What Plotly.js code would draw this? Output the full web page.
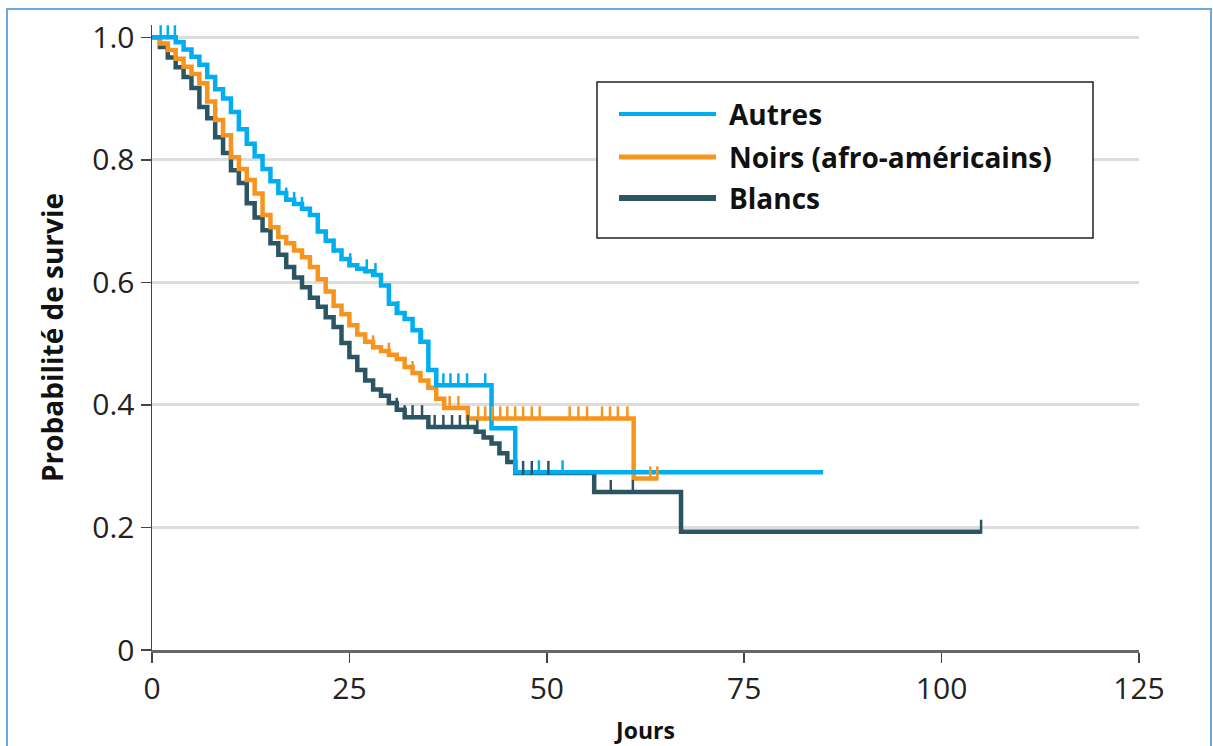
<!DOCTYPE html>
<html>
<head>
<meta charset="utf-8">
<script src="https://cdn.plot.ly/plotly-3.0.1.min.js"></script>
<style>html,body{margin:0;padding:0;background:#fff;}</style>
</head>
<body>
<div id="chart" style="width:1213px;height:746px;"></div>
<script>
// ---- Data ----
const seriesNames = ['Autres', 'Noirs (afro-américains)', 'Blancs'];

// Autres
const autresDays = [0,3,4,5,6,7,8,9,10,11,12,13,14,15,16,17,18,19,20,21,22,23,24,25,26,27,28,29,30,31,32,33,34,35,36,43,46,85];
const autresSurv = [1.0,0.992,0.98,0.968,0.955,0.935,0.915,0.9,0.878,0.85,0.826,0.806,0.785,0.765,0.746,0.735,0.728,0.72,0.71,0.683,0.668,0.652,0.638,0.628,0.622,0.618,0.612,0.595,0.565,0.55,0.54,0.522,0.503,0.457,0.432,0.362,0.29,0.29];
const autresCensored = [1.1,2.0,2.9,17,18,19,23,25.1,27.2,28.3,31.2,34.2,36.9,37.8,38.8,39.9,42.2,49,52];

// Noirs (afro-américains)
const noirsDays = [0,1,2,3,4,5,6,7,8,9,10,11,12,13,14,15,16,17,18,19,20,21,22,23,24,25,26,27,28,29,30,31,32,33,34,35,36,37,40,61,64];
const noirsSurv = [1.0,0.99,0.979,0.965,0.952,0.94,0.925,0.895,0.865,0.84,0.804,0.785,0.767,0.745,0.71,0.69,0.674,0.664,0.652,0.641,0.625,0.605,0.585,0.562,0.548,0.53,0.515,0.503,0.494,0.488,0.482,0.475,0.462,0.452,0.44,0.428,0.41,0.395,0.378,0.28,0.28];
const noirsCensored = [28,30,33,37.7,38.8,41.3,42.2,43.1,44.1,45,46,47,48.1,49.1,52.9,54,55.1,57,58,59,60.2,63.1,64];

// Blancs
const blancsDays = [0,1,2,3,4,5,6,7,8,9,10,11,12,13,14,15,16,17,18,19,20,21,22,23,24,25,26,27,28,29,30,31,32,35,41,42,43,44,45,46,56,67,105];
const blancsSurv = [1.0,0.984,0.967,0.951,0.935,0.917,0.886,0.868,0.837,0.811,0.783,0.762,0.729,0.706,0.685,0.664,0.645,0.625,0.608,0.592,0.575,0.56,0.543,0.527,0.501,0.478,0.457,0.44,0.425,0.415,0.403,0.392,0.38,0.364,0.356,0.347,0.337,0.321,0.307,0.289,0.258,0.193,0.193];
const blancsCensored = [31,32,33,34.2,35.8,36.9,38,39,40,41.2,47,48.1,50.2,58.1,60.9,105];

const xTickVals = [0,25,50,75,100,125];
const yTickVals = [0,0.2,0.4,0.6,0.8,1.0];
const yTickText = ['0','0.2','0.4','0.6','0.8','1.0'];
const xTitle = 'Jours';
const yTitle = 'Probabilité de survie';

// ---- Styles ----
const colors = ['#00aeef', '#f7941d', '#2b5563'];
const W = 1213, H = 746;
const margin = {l: 152, r: 74, t: 25, b: 96, pad: 0};
const yRange = [0, 1.02];
const xRange = [0, 125];
const plotH = H - margin.t - margin.b;
const plotW = W - margin.l - margin.r;
const pxPerY = plotH / (yRange[1] - yRange[0]);
const tickOffset = 5 / pxPerY;

function survAt(days, surv, t) {
  let v = surv[0];
  for (let i = 0; i < days.length; i++) { if (days[i] <= t) v = surv[i]; }
  return v;
}

const groups = [
  {days: autresDays, surv: autresSurv, cens: autresCensored},
  {days: noirsDays, surv: noirsSurv, cens: noirsCensored},
  {days: blancsDays, surv: blancsSurv, cens: blancsCensored}
];

const drawOrder = [2, 1, 0];
const traces = [];
drawOrder.forEach(i => {
  const g = groups[i];
  traces.push({
    x: g.days, y: g.surv, type: 'scatter', mode: 'lines',
    line: {shape: 'hv', color: colors[i], width: 4.5},
    name: seriesNames[i], showlegend: false, hoverinfo: 'skip'
  });
});
drawOrder.forEach(i => {
  const g = groups[i];
  traces.push({
    x: g.cens, y: g.cens.map(t => survAt(g.days, g.surv, t) + tickOffset),
    type: 'scatter', mode: 'markers',
    marker: {symbol: 'line-ns', size: 10, line: {color: colors[i], width: 2.5}},
    name: seriesNames[i] + ' (censuré)', showlegend: false, hoverinfo: 'skip'
  });
});

// pixel -> paper helpers (for the legend box and page frame)
const px2x = px => (px - margin.l) / plotW;
const px2y = py => (H - margin.b - py) / plotH;

const shapes = [
  {type: 'rect', xref: 'paper', yref: 'paper', x0: px2x(7), x1: px2x(1211), y0: px2y(770), y1: px2y(9),
   line: {color: '#6fa8dc', width: 2}, fillcolor: 'rgba(0,0,0,0)', layer: 'below'},
  {type: 'rect', xref: 'paper', yref: 'paper', x0: px2x(597), x1: px2x(1093), y0: px2y(238), y1: px2y(82),
   line: {color: '#222', width: 1.5}, fillcolor: '#ffffff', layer: 'above'}
];
const legendRows = [114, 157, 198];
const legendWidths = [4, 5, 6];
const annotations = [];
seriesNames.forEach((name, i) => {
  shapes.push({type: 'line', xref: 'paper', yref: 'paper', x0: px2x(619), x1: px2x(716), y0: px2y(legendRows[i]), y1: px2y(legendRows[i]),
    line: {color: colors[i], width: legendWidths[i]}, layer: 'above'});
  annotations.push({xref: 'paper', yref: 'paper', x: px2x(727), y: px2y(legendRows[i]), xanchor: 'left', yanchor: 'middle',
    text: '<b>' + name + '</b>', showarrow: false, font: {family: 'Open Sans, sans-serif', size: 28, color: '#111'}});
});

const layout = {
  width: W, height: H, margin: margin,
  paper_bgcolor: '#ffffff', plot_bgcolor: '#ffffff',
  showlegend: false,
  font: {family: 'Open Sans, sans-serif', color: '#222'},
  xaxis: {
    range: xRange, tickvals: xTickVals, ticks: 'outside', ticklen: 10, tickwidth: 1.5, tickcolor: '#444',
    showline: true, linecolor: '#666', linewidth: 2.5, showgrid: false, zeroline: false,
    tickfont: {size: 30, color: '#222'},
    title: {text: '<b>' + xTitle + '</b>', font: {size: 23, color: '#111'}, standoff: 18}
  },
  yaxis: {
    range: yRange, tickvals: yTickVals, ticktext: yTickText, ticks: 'outside', ticklen: 10, tickwidth: 1.5, tickcolor: '#444',
    showline: true, linecolor: '#444', linewidth: 1.5, showgrid: true, gridcolor: '#dddddd', gridwidth: 3, zeroline: false,
    tickfont: {size: 30, color: '#222'},
    title: {text: '<b>' + yTitle + '</b>', font: {size: 28, color: '#111'}, standoff: 20}
  },
  shapes: shapes,
  annotations: annotations
};

Plotly.newPlot('chart', traces, layout, {displayModeBar: false, staticPlot: true});
</script>
</body>
</html>
